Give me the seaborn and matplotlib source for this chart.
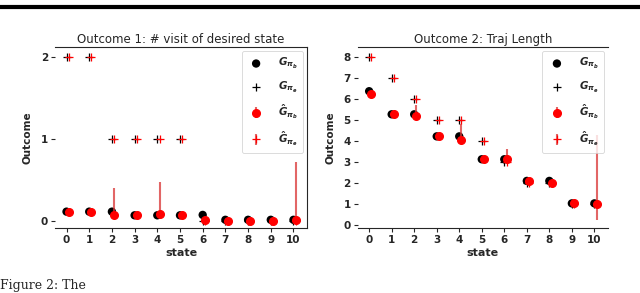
import matplotlib
matplotlib.use("Agg")
import matplotlib.pyplot as plt
from matplotlib.lines import Line2D
import numpy as np
import pandas as pd
import seaborn as sns

sns.set_style("white")
plt.rcParams['font.family'] = ['DejaVu Sans']
plt.rcParams['mathtext.fontset'] = 'custom'
plt.rcParams['mathtext.it'] = 'DejaVu Sans:italic:bold'
plt.rcParams['mathtext.rm'] = 'DejaVu Sans:bold'

# estados
states = list(range(11))

# Outcome 1: # visit of desired state
o1_g_b = [0.11, 0.11, 0.11, 0.065, 0.065, 0.065, 0.07, 0.01, 0.01, 0.01, 0.01]
o1_g_e = [2, 2, 1, 1, 1, 1, 0, 0, 0, 0, 0]
o1_hat_b = [0.11, 0.11, 0.07, 0.065, 0.08, 0.065, 0.01, 0.0, 0.0, 0.0, 0.01]
o1_hat_b_lo = [0.0, 0.0, 0.04, 0.0, 0.0, 0.0, 0.0, 0.0, 0.0, 0.0, 0.0]
o1_hat_b_hi = [0.05, 0.05, 0.33, 0.0, 0.39, 0.0, 0.0, 0.0, 0.0, 0.0, 0.71]
o1_hat_e = [2, 2, 1, 1, 1, 1, 0, 0, 0, 0, 0]

# Outcome 2: Traj Length
o2_g_b = [6.37, 5.27, 5.27, 4.22, 4.22, 3.13, 3.13, 2.1, 2.1, 1.03, 1.03]
o2_g_e = [8, 7, 6, 5, 5, 4, 3, 2, 2, 1, 1]
o2_hat_b = [6.24, 5.27, 5.18, 4.22, 4.07, 3.13, 3.13, 2.1, 2.02, 1.03, 0.98]
o2_hat_b_lo = [0.0, 0.0, 0.18, 0.0, 0.0, 0.0, 0.12, 0.15, 0.05, 0.0, 0.75]
o2_hat_b_hi = [0.0, 0.0, 0.52, 0.0, 0.73, 0.0, 0.5, 0.0, 0.0, 0.0, 3.3]
o2_hat_e = [8, 7, 6, 5, 5, 4, 3, 2, 2, 1, 1]

offset = 0.1
labels = [r'$G_{\pi_b}$', r'$G_{\pi_e}$', r'$\hat{G}_{\pi_b}$', r'$\hat{G}_{\pi_e}$']
ecol = (0.85, 0.2, 0.2, 0.75)


def panel(ax, g_b, g_e, hat_b, lo, hi, hat_e, title, yticks):
    df = pd.DataFrame({'state': states, 'g_b': g_b, 'g_e': g_e})
    sns.scatterplot(data=df, x='state', y='g_b', ax=ax, color='black', s=36,
                    marker='o', edgecolor='none', label=labels[0], zorder=3)
    sns.scatterplot(data=df, x='state', y='g_e', ax=ax, color='black', s=30,
                    marker='+', linewidth=0.9, label=labels[1], zorder=3)
    xs = np.array(states) + offset
    ax.errorbar(xs, hat_b, yerr=[lo, hi], fmt='o', color='red', ms=5.5,
                ecolor=ecol, elinewidth=1.5, label=labels[2], zorder=4)
    ax.errorbar(xs, hat_e, yerr=np.zeros(len(states)), fmt='+', color='red', ms=5.5,
                mew=0.9, ecolor=ecol, elinewidth=1.5, label=labels[3], zorder=4)
    ax.set_title(title, fontsize=8.5, pad=3)
    ax.set_xlabel('state', fontsize=8, fontweight='bold', labelpad=2)
    ax.set_ylabel('Outcome', fontsize=7.5, fontweight='bold', labelpad=6)
    ax.set_xticks(states)
    ax.set_yticks(yticks)
    ax.tick_params(axis='both', labelsize=7.5, length=3, width=0.8, pad=2,
                   left=True, bottom=True)
    for t in ax.get_xticklabels() + ax.get_yticklabels():
        t.set_fontweight('bold')
    ax.spines['left'].set_visible(False)
    leg = ax.legend(loc='upper right', fontsize=7.5, frameon=True, labelspacing=0.8,
                    handletextpad=1.2, borderpad=0.5, borderaxespad=0.4, handlelength=1.8)
    leg.get_frame().set_linewidth(0.6)


fig = plt.figure(figsize=(6.4, 2.93), dpi=100)
ax1 = fig.add_axes([0.086, 0.222, 0.394, 0.618])
ax2 = fig.add_axes([0.559, 0.222, 0.391, 0.618])

panel(ax1, o1_g_b, o1_g_e, o1_hat_b, o1_hat_b_lo, o1_hat_b_hi, o1_hat_e,
      'Outcome 1: # visit of desired state', [0, 1, 2])
panel(ax2, o2_g_b, o2_g_e, o2_hat_b, o2_hat_b_lo, o2_hat_b_hi, o2_hat_e,
      'Outcome 2: Traj Length', list(range(9)))
ax2.spines['right'].set_visible(False)
ax1.set_ylim(-0.09, 2.13)
ax2.set_ylim(-0.14, 8.48)

# regla gruesa de la pagina
fig.add_artist(Line2D([0, 1], [0.975, 0.975], color='black', lw=3, transform=fig.transFigure))
fig.text(0.0, 0.003, 'Figure 2: The', fontsize=9, family='DejaVu Serif', ha='left', va='bottom')

fig.savefig('out.png', dpi=100)
